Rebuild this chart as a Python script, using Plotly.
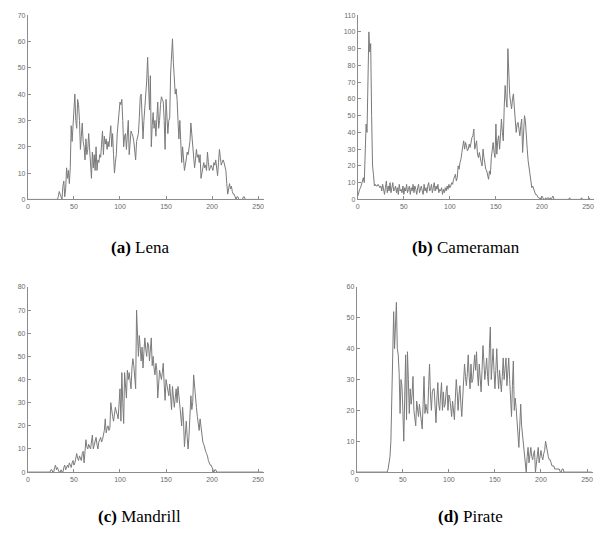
import plotly.graph_objects as go

# Histogram bins (grey levels)
bins = list(range(256))

lena = ([0] * 33 +
    [1, 3, 2, 1, 0, 5, 7, 1, 4, 12,
     8, 11, 6, 12, 28, 22, 29, 33, 40, 30,
     27, 38, 36, 30, 19, 24, 29, 22, 20, 15,
     23, 17, 19, 25, 20, 15, 8, 18, 12, 17,
     11, 20, 11, 15, 14, 17, 16, 21, 26, 17,
     24, 21, 23, 19, 22, 20, 24, 28, 20, 25,
     17, 10, 14, 17, 25, 30, 33, 37, 36, 38,
     30, 20, 24, 25, 19, 23, 30, 17, 22, 26,
     25, 24, 22, 18, 15, 22, 24, 25, 31, 39,
     40, 33, 23, 30, 35, 41, 45, 54, 40, 34,
     47, 20, 28, 33, 27, 30, 24, 29, 37, 27,
     30, 36, 39, 38, 37, 30, 19, 38, 33, 25,
     30, 31, 48, 55, 61, 52, 47, 40, 42, 38,
     30, 23, 30, 22, 14, 20, 16, 11, 13, 15,
     18, 17, 20, 22, 29, 24, 18, 16, 12, 15,
     19, 16, 17, 14, 17, 8, 10, 13, 14, 12,
     13, 11, 18, 14, 11, 12, 13, 12, 11, 14,
     13, 15, 12, 9, 14, 19, 16, 13, 14, 15,
     14, 12, 11, 6, 2, 4, 6, 4, 5, 3,
     2, 2, 1, 0, 1, 1, 0, 0, 0, 0,
     0, 1, 1] +
    [0] * 20)

cameraman = [
    2, 5, 6, 7, 9, 11, 13, 10, 30, 45,
    40, 70, 100, 88, 93, 50, 20, 15, 8, 9,
    8, 8, 9, 8, 7, 8, 5, 9, 6, 3,
    7, 11, 4, 8, 5, 10, 4, 7, 10, 5,
    6, 8, 4, 7, 3, 9, 5, 6, 4, 8,
    3, 7, 5, 9, 4, 6, 8, 3, 7, 5,
    9, 4, 8, 6, 3, 7, 9, 4, 6, 8,
    5, 3, 9, 5, 7, 4, 8, 10, 5, 6,
    9, 4, 7, 10, 5, 8, 6, 9, 4, 6,
    5, 7, 3, 6, 4, 7, 5, 8, 6, 9,
    7, 8, 10, 9, 12, 14, 15, 11, 13, 20,
    18, 22, 24, 28, 31, 35, 30, 34, 32, 29,
    30, 33, 31, 35, 37, 38, 42, 30, 33, 35,
    27, 25, 28, 24, 22, 20, 30, 25, 20, 18,
    17, 14, 12, 17, 15, 25, 30, 34, 28, 25,
    45, 27, 35, 38, 30, 42, 48, 40, 35, 55,
    68, 60, 55, 90, 75, 62, 58, 54, 60, 63,
    55, 48, 40, 45, 46, 42, 38, 44, 48, 28,
    45, 50, 47, 35, 30, 23, 18, 14, 10, 7,
    8, 6, 4, 3, 3, 2, 1, 1, 0, 1,
    2, 1, 0, 0, 1, 0, 1, 1, 0, 1,
    0, 1, 2, 0, 0, 0, 0, 0, 0, 0,
    0, 0, 0, 0, 0, 0, 0, 0, 0, 0,
    1, 0, 0, 0, 0, 0, 0, 0, 0, 0,
    0, 0, 0, 1, 0, 0, 0, 0, 0, 0,
    0, 1, 0, 0, 0, 0]

mandrill = ([0] * 20 +
    [0, 0, 0, 0, 0, 1, 1, 0, 0, 2,
     3, 1, 2, 1, 0, 0, 1, 0, 0, 2,
     3, 1, 2, 3, 2, 4, 3, 2, 4, 5,
     3, 4, 6, 8, 6, 5, 7, 6, 5, 8,
     9, 4, 10, 14, 11, 10, 12, 11, 10, 13,
     16, 10, 12, 13, 15, 12, 10, 13, 14, 15,
     13, 14, 16, 18, 23, 17, 19, 20, 18, 19,
     30, 26, 24, 22, 25, 28, 26, 25, 23, 30,
     36, 22, 43, 30, 21, 43, 37, 32, 44, 40,
     43, 38, 36, 45, 49, 46, 40, 36, 70, 58,
     50, 59, 53, 48, 54, 45, 52, 58, 53, 50,
     56, 55, 48, 54, 58, 46, 50, 45, 42, 47,
     44, 32, 38, 44, 42, 40, 43, 47, 38, 31,
     40, 37, 35, 33, 38, 34, 27, 37, 33, 28,
     32, 36, 30, 37, 33, 28, 24, 20, 28, 22,
     11, 18, 22, 15, 10, 16, 23, 33, 27, 30,
     42, 36, 32, 28, 24, 20, 18, 23, 19, 14,
     13, 12, 10, 9, 8, 7, 5, 4, 3, 3,
     2, 1, 0, 1, 1, 0, 0, 0, 0, 0] +
    [0] * 46)

pirate = ([0] * 30 +
    [0, 0, 0, 0, 1, 3, 5, 10, 25, 40,
     52, 40, 48, 55, 40, 38, 32, 19, 30, 28,
     20, 10, 24, 38, 17, 39, 30, 19, 27, 22,
     25, 31, 20, 17, 15, 23, 20, 18, 22, 19,
     18, 14, 22, 31, 19, 22, 20, 19, 28, 35,
     25, 20, 26, 27, 27, 20, 16, 24, 29, 22,
     20, 25, 29, 20, 26, 21, 22, 26, 28, 20,
     25, 24, 20, 18, 23, 20, 17, 24, 30, 26,
     20, 25, 28, 22, 18, 24, 29, 35, 31, 28,
     32, 38, 31, 27, 35, 29, 30, 34, 38, 33,
     39, 32, 28, 35, 31, 26, 33, 41, 36, 30,
     33, 37, 31, 28, 40, 47, 30, 35, 40, 33,
     27, 33, 40, 32, 27, 33, 30, 26, 31, 37,
     30, 33, 37, 28, 34, 37, 30, 25, 18, 28,
     36, 20, 24, 21, 17, 14, 8, 15, 22, 15,
     12, 10, 7, 5, 0, 5, 8, 3, 6, 8,
     5, 4, 6, 7, 0, 3, 6, 8, 3, 5,
     7, 5, 4, 6, 7, 10, 8, 6, 5, 4,
     4, 3, 2, 2, 2, 1, 1, 1, 1, 1,
     1, 0, 0, 1, 1, 0, 0, 0, 0, 0] +
    [0] * 26)

series = [lena, cameraman, mandrill, pirate]
captions = ["<b>(a)</b> Lena", "<b>(b)</b> Cameraman",
            "<b>(c)</b> Mandrill", "<b>(d)</b> Pirate"]
ymax = [70, 110, 80, 60]
xticks = [0, 50, 100, 150, 200, 250]

W, H = 600, 536
# pixel boxes: (x0, x1, ytop, ybottom)
boxes = [(26, 262.5, 11.3, 198), (357, 593.5, 11.3, 198),
         (26, 262.5, 286.7, 474.3), (356, 592.5, 286.7, 474.3)]
cap_pos = [(139, 247), (466, 247), (138, 519), (470, 519)]

fig = go.Figure()
axis_style = dict(showline=True, linecolor="#8c8c8c", linewidth=1,
                  showgrid=False, zeroline=False, ticks="inside",
                  ticklen=3, tickcolor="#8c8c8c", tickwidth=1,
                  tickfont=dict(family="Liberation Sans", size=7, color="#6a6a6a"))
layout = {}
for i, (ys, box) in enumerate(zip(series, boxes)):
    n = "" if i == 0 else str(i + 1)
    fig.add_trace(go.Scatter(x=bins, y=ys, mode="lines",
                             line=dict(color="#7a7a7a", width=1),
                             xaxis="x" + n, yaxis="y" + n, showlegend=False,
                             hoverinfo="skip"))
    x0, x1, yt, yb = box
    layout["xaxis" + n] = dict(domain=[x0 / W, x1 / W], range=[0, 256],
                               tickvals=xticks, anchor="y" + n, **axis_style)
    layout["yaxis" + n] = dict(domain=[1 - yb / H, 1 - yt / H], range=[0, ymax[i]],
                               tickvals=list(range(0, ymax[i] + 1, 10)),
                               anchor="x" + n, **axis_style)
    cx, cy = cap_pos[i]
    fig.add_annotation(text=captions[i], x=cx / W, y=1 - cy / H,
                       xref="paper", yref="paper", showarrow=False,
                       xanchor="center", yanchor="middle",
                       font=dict(family="Liberation Serif", size=17, color="black"))

fig.update_layout(width=W, height=H, margin=dict(l=0, r=0, t=0, b=0),
                  paper_bgcolor="white", plot_bgcolor="white", **layout)
fig.write_html("out.html", config={"displayModeBar": False},
               post_script="document.body.style.margin='0';document.body.style.overflow='hidden';")
